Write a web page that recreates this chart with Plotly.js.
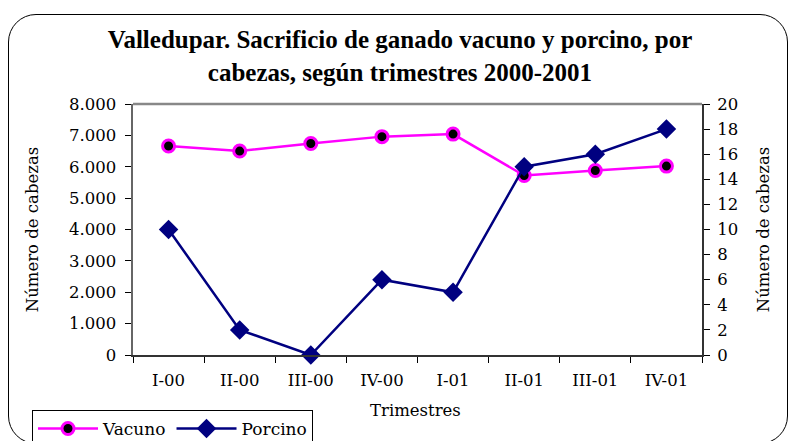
<!DOCTYPE html>
<html>
<head>
<meta charset="utf-8">
<script src="https://cdn.plot.ly/plotly-3.0.1.min.js"></script>
<style>
html,body{margin:0;padding:0;background:#fff;}
#wrap{position:relative;width:792px;height:441px;overflow:hidden;}
#chart{width:792px;height:441px;}
#frame{position:absolute;left:8px;top:14px;width:780px;height:430px;border:1.5px solid #000;border-radius:28px;pointer-events:none;box-sizing:border-box;}
</style>
</head>
<body>
<div id="wrap">
<div id="chart"></div>
<div id="frame"></div>
</div>
<script>
const categories = ["I-00","II-00","III-00","IV-00","I-01","II-01","III-01","IV-01"];
const vacuno = [6660, 6500, 6740, 6960, 7040, 5720, 5880, 6020];
const porcino = [10, 2, 0, 6, 5, 15, 16, 18];
const leftTicks = [0,1000,2000,3000,4000,5000,6000,7000,8000];
const rightTicks = [0,2,4,6,8,10,12,14,16,18,20];
const xTitle = "Trimestres";

const tickFont = {family: "DejaVu Serif", size: 16.5, color: "#000"};
const titleFont = {family: "DejaVu Serif", size: 16.5, color: "#000"};

const traces = [
  {
    x: categories, y: vacuno, name: "Vacuno", type: "scatter", mode: "lines+markers",
    line: {color: "#FF00FF", width: 2.5},
    marker: {symbol: "circle", size: 12, color: "#000", line: {color: "#FF00FF", width: 3}},
    yaxis: "y", cliponaxis: false
  },
  {
    x: categories, y: porcino, name: "Porcino", type: "scatter", mode: "lines+markers",
    line: {color: "#000080", width: 2.5},
    marker: {symbol: "diamond", size: 15, color: "#000080"},
    yaxis: "y2", cliponaxis: false
  }
];

const layout = {
  width: 792, height: 441,
  margin: {l: 133, r: 90, t: 104, b: 86, autoexpand: false},
  paper_bgcolor: "#fff", plot_bgcolor: "#fff",
  separators: ",.",
  showlegend: true,
  title: {
    text: "<b>Valledupar. Sacrificio de ganado vacuno y porcino, por<br>cabezas, según trimestres 2000-2001</b>",
    font: {family: "Liberation Serif", size: 25, color: "#000"},
    x: 0.505, xref: "container", xanchor: "center",
    y: 1 - 48/441, yref: "container", yanchor: "middle"
  },
  xaxis: {
    type: "category", range: [-0.5, 7.5],
    showline: true, linecolor: "#333", linewidth: 2,
    ticks: "outside", ticklen: 6, tickcolor: "#000", tickwidth: 1,
    tickson: "boundaries", ticklabelstandoff: 9,
    showgrid: false, zeroline: false, automargin: false,
    tickfont: tickFont
  },
  yaxis: {
    range: [0, 8000], tickvals: leftTicks, tickformat: ",d",
    showline: true, linecolor: "#666", linewidth: 2.5,
    ticks: "outside", ticklen: 6, tickcolor: "#000", tickwidth: 1,
    ticklabelstandoff: 5,
    showgrid: false, zeroline: false, automargin: false,
    tickfont: tickFont,
    title: {text: "Número de cabezas", font: titleFont, standoff: 26}
  },
  yaxis2: {
    range: [0, 20], tickvals: rightTicks,
    overlaying: "y", side: "right", anchor: "x",
    showline: true, linecolor: "#333", linewidth: 2,
    ticks: "outside", ticklen: 6, tickcolor: "#000", tickwidth: 1,
    ticklabelstandoff: 4,
    showgrid: false, zeroline: false, automargin: false,
    tickfont: tickFont,
    title: {text: "Número de cabezas", font: titleFont, standoff: 20}
  },
  annotations: [
    {text: xTitle, xref: "paper", yref: "paper", x: 0.497, y: (355 - 410) / 251,
     xanchor: "center", yanchor: "middle", showarrow: false, font: titleFont}
  ],
  shapes: [
    {type: "line", xref: "paper", yref: "paper", x0: 0, x1: 1, y0: 1, y1: 1,
     line: {color: "#888", width: 2.5}}
  ],
  legend: {
    orientation: "h", xref: "container", yref: "container",
    x: 32/792, xanchor: "left", y: 1 - 410/441, yanchor: "top",
    bgcolor: "#fff", bordercolor: "#000", borderwidth: 1,
    font: {family: "DejaVu Serif", size: 17, color: "#000"},
    itemwidth: 60, tracegroupgap: 0
  }
};

Plotly.newPlot("chart", traces, layout, {displayModeBar: false, staticPlot: true});
</script>
</body>
</html>
